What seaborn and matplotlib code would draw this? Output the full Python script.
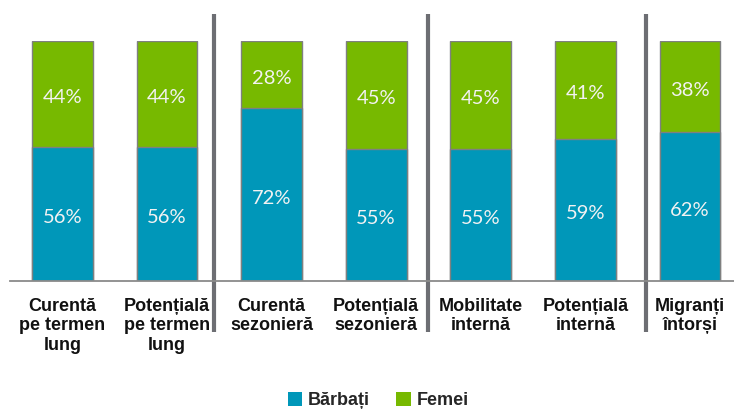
import matplotlib
matplotlib.use("Agg")
import matplotlib.pyplot as plt
from matplotlib.patches import Patch
import seaborn as sns
import pandas as pd

categories = ["Curentă\npe termen\nlung", "Potențială\npe termen\nlung",
              "Curentă\nsezonieră", "Potențială\nsezonieră",
              "Mobilitate\ninternă", "Potențială\ninternă", "Migranți\nîntorși"]
barbati = [56, 56, 72, 55, 55, 59, 62]
femei = [44, 44, 28, 45, 45, 41, 38]
series_names = ["Bărbați", "Femei"]

blue = "#0097b9"
green = "#77b900"

sns.set_theme(style="white")
plt.rcParams['font.family'] = ['Liberation Sans', 'DejaVu Sans']

df = pd.DataFrame({"cat": categories, "barbati": barbati, "femei": femei})
df["total"] = df["barbati"] + df["femei"]

fig = plt.figure(figsize=(7.34, 4.15), dpi=100)
ax = fig.add_axes([10/734, (415-281)/415, 1 - 10/734, (281-41)/415])

sns.barplot(data=df, x="cat", y="total", color=green, width=0.58,
            edgecolor="#7f8080", linewidth=1.0, saturation=1, ax=ax)
sns.barplot(data=df, x="cat", y="barbati", color=blue, width=0.58,
            edgecolor="#7f8080", linewidth=1.0, saturation=1, ax=ax)

ax.set_xlim(-0.5, 6.42)
ax.set_ylim(0, 100)
ax.set_xlabel("")
ax.set_ylabel("")
ax.set_yticks([])
for s in ["top", "right", "left"]:
    ax.spines[s].set_visible(False)
ax.spines["bottom"].set_color("#8a8a8a")
ax.spines["bottom"].set_linewidth(1.3)
ax.tick_params(axis="x", length=0, pad=12)
for lbl in ax.get_xticklabels():
    lbl.set_fontsize(13)
    lbl.set_fontweight("bold")
    lbl.set_color("#111111")
    lbl.set_linespacing(1.2)

for i, (b, f) in enumerate(zip(barbati, femei)):
    ax.annotate(f"{b}%", (i, b / 2), xytext=(0, -2.5), textcoords="offset points",
                ha="center", va="center", color="#f2f2f2",
                fontsize=14.5, family=["Lato", "DejaVu Sans"])
    ax.annotate(f"{f}%", (i, b + f / 2), xytext=(0, -2.5), textcoords="offset points",
                ha="center", va="center", color="#f2f2f2",
                fontsize=14.5, family=["Lato", "DejaVu Sans"])

for xs in [1.45, 3.5, 5.58]:
    ax.plot([xs, xs], [111.2, -21.2], color="#6d6e73", linewidth=3.0,
            clip_on=False, solid_capstyle="butt")

handles = [Patch(facecolor=blue, edgecolor="none"), Patch(facecolor=green, edgecolor="none")]
fig.legend(handles, series_names, loc="lower center", bbox_to_anchor=(0.515, -0.025),
           ncol=2, frameon=False, prop={"size": 13, "weight": "bold"},
           handlelength=0.8, handleheight=0.8,
           handletextpad=0.3, columnspacing=1.5)

fig.savefig("out.png", dpi=100)
